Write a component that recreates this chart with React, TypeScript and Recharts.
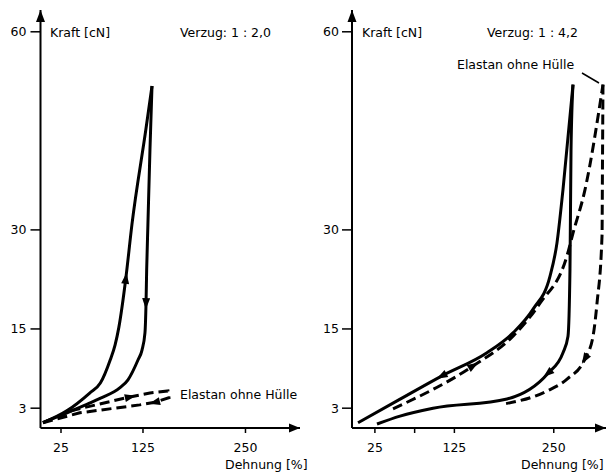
import React from "react";
import { LineChart, Line, XAxis, YAxis, ReferenceDot } from "recharts";

const FONT = '"DejaVu Sans", Arial, sans-serif';

// y ticks (Kraft [cN]) and x ticks (Dehnung [%])
const yTicks = [3, 15, 30, 60];
const xTicksLeft = [25, 125, 250];
const xTicksRight = [25, 75, 125, 250];
const xLabelledRight = [25, 125, 250];

// Verzug 1 : 2,0 -- umsponnenes Garn, Belastung
const leftLoad = [
  { x: 3, y: 0.8 },
  { x: 32, y: 2.6 },
  { x: 60, y: 5.3 },
  { x: 73, y: 6.8 },
  { x: 85, y: 10.3 },
  { x: 91, y: 12.6 },
  { x: 95.5, y: 15.2 },
  { x: 104, y: 22.6, arrow: 1 },
  { x: 111.5, y: 30.8 },
  { x: 128.5, y: 45.2 },
  { x: 136, y: 51.8 },
];

// Entlastung
const leftUnload = [
  { x: 136, y: 51.8 },
  { x: 133.5, y: 42.1 },
  { x: 131, y: 30.8 },
  { x: 129.5, y: 24 },
  { x: 128.7, y: 18.9, arrow: 1 },
  { x: 127.4, y: 14.4 },
  { x: 123.8, y: 11.8 },
  { x: 118.9, y: 10.3 },
  { x: 106.7, y: 7.3 },
  { x: 97, y: 6.1 },
  { x: 72.6, y: 4.5 },
  { x: 60.4, y: 3.8 },
  { x: 32.3, y: 2.3 },
  { x: 3, y: 0.8 },
];

// Elastan ohne Hülle, 1 : 2,0
const leftBare = [
  { x: 3, y: 0.8 },
  { x: 39.6, y: 2.7 },
  { x: 109, y: 4.7, arrow: 1 },
  { x: 133.5, y: 5.3 },
  { x: 155.5, y: 5.6 },
  { x: 156.7, y: 4.6 },
  { x: 139.6, y: 3.9, arrow: 1 },
  { x: 121, y: 3.5 },
  { x: 48, y: 2.3 },
  { x: 3, y: 0.8 },
];

// Verzug 1 : 4,2 -- umsponnenes Garn
const rightLoad = [
  { x: 3.8, y: 0.8 },
  { x: 52.8, y: 4.1 },
  { x: 109.4, y: 7.9, arrow: -1 },
  { x: 166, y: 11.4 },
  { x: 198.7, y: 14.4 },
  { x: 224, y: 18 },
  { x: 245.3, y: 23 },
  { x: 254, y: 28 },
  { x: 261.6, y: 36.1 },
  { x: 274.2, y: 52 },
];

const rightUnload = [
  { x: 274.2, y: 52 },
  { x: 271.7, y: 42.1 },
  { x: 270.4, y: 24.1 },
  { x: 267.9, y: 13.9 },
  { x: 261.6, y: 11.4 },
  { x: 242.8, y: 8.3, arrow: 1 },
  { x: 191.2, y: 4.4 },
  { x: 98.1, y: 3.0 },
  { x: 56.6, y: 1.8 },
  { x: 27.7, y: 0.6 },
];

// Elastan ohne Hülle, 1 : 4,2
const rightBareLoad = [
  { x: 47.8, y: 2.9 },
  { x: 148.4, y: 9.4, arrow: 1 },
  { x: 198.7, y: 13.9 },
  { x: 232.7, y: 18.9 },
  { x: 266.7, y: 26.1 },
  { x: 274.2, y: 29.5 },
  { x: 289.3, y: 36.1 },
  { x: 311.9, y: 52 },
];

const rightBareUnload = [
  { x: 311.9, y: 52 },
  { x: 311.3, y: 40.6 },
  { x: 310.7, y: 29.1 },
  { x: 304.4, y: 18.9 },
  { x: 299.4, y: 13.9 },
  { x: 289.3, y: 10.5, arrow: 1 },
  { x: 266.7, y: 7.4 },
  { x: 241.5, y: 5.6 },
  { x: 186.2, y: 3.6 },
];

const tickStyle = { fill: "#000", fontSize: 12.5, fontFamily: FONT };
const axisLine = { stroke: "#000", strokeWidth: 2 };
const tickLine = { stroke: "#000", strokeWidth: 1.5 };

function ArrowDot(props: any) {
  const { cx, cy, payload, points, index } = props;
  if (!payload || !payload.arrow || cx == null || cy == null) return <g key={"n" + index} />;
  let angle = 0;
  if (points && points.length) {
    const prev = points[Math.max(0, index - 1)];
    const next = points[Math.min(points.length - 1, index + 1)];
    angle = (Math.atan2(next.y - prev.y, next.x - prev.x) * 180) / Math.PI;
  }
  if (payload.arrow < 0) angle += 180;
  return (
    <g key={"a" + index} transform={`translate(${cx},${cy}) rotate(${angle})`}>
      <polygon points="6,0 -5,-4 -5,4" fill="#000" stroke="none" />
    </g>
  );
}

const RightArrow = (p: any) => (
  <polygon points={`${p.cx},${p.cy} ${p.cx - 11},${p.cy - 4.5} ${p.cx - 11},${p.cy + 4.5}`} fill="#000" />
);
const UpArrow = (p: any) => (
  <polygon points={`${p.cx},${p.cy} ${p.cx - 4.5},${p.cy + 12} ${p.cx + 4.5},${p.cy + 12}`} fill="#000" />
);

function curve(data: any[], dashed: boolean, type: any = "monotone") {
  return (
    <Line
      data={data}
      dataKey="y"
      type={type}
      stroke="#000"
      strokeWidth={3}
      strokeDasharray={dashed ? "10 5" : undefined}
      dot={ArrowDot}
      activeDot={false}
      isAnimationActive={false}
    />
  );
}

export default function App() {
  const yMax = 63.3;
  return (
    <div style={{ position: "absolute", left: 0, top: 0, width: 606, height: 472, background: "#fff" }}>
      <div style={{ position: "absolute", left: 0, top: 0 }}>
        <LineChart width={303} height={472} margin={{ top: 10, right: 3, bottom: 0, left: 0 }}>
          <XAxis
            type="number"
            dataKey="x"
            domain={[0, 316.5]}
            allowDataOverflow
            ticks={xTicksLeft}
            tick={tickStyle}
            tickSize={5}
            tickMargin={10}
            axisLine={axisLine}
            tickLine={tickLine}
            height={44}
          />
          <YAxis
            type="number"
            domain={[0, yMax]}
            allowDataOverflow
            ticks={yTicks}
            tick={tickStyle}
            tickSize={10}
            tickMargin={4}
            axisLine={axisLine}
            tickLine={tickLine}
            width={40.5}
          />
          {curve(leftLoad, false)}
          {curve(leftUnload, false)}
          {curve(leftBare, true, "linear")}
          <ReferenceDot x={316.5} y={0} ifOverflow="visible" shape={RightArrow} />
          <ReferenceDot x={0} y={yMax} ifOverflow="visible" shape={UpArrow} />
        </LineChart>
      </div>
      <div style={{ position: "absolute", left: 303, top: 0 }}>
        <LineChart width={303} height={472} margin={{ top: 10, right: 0, bottom: 0, left: 0 }}>
          <XAxis
            type="number"
            dataKey="x"
            domain={[-3.8, 315.7]}
            allowDataOverflow
            ticks={xTicksRight}
            tickFormatter={(v: number) => (xLabelledRight.includes(v) ? String(v) : "")}
            tick={tickStyle}
            tickSize={5}
            tickMargin={10}
            axisLine={axisLine}
            tickLine={tickLine}
            height={44}
          />
          <YAxis
            type="number"
            domain={[0, yMax]}
            allowDataOverflow
            ticks={yTicks}
            tick={tickStyle}
            tickSize={10}
            tickMargin={3}
            axisLine={axisLine}
            tickLine={tickLine}
            width={49}
          />
          {curve(rightLoad, false)}
          {curve(rightUnload, false)}
          {curve(rightBareLoad, true)}
          {curve(rightBareUnload, true)}
          <ReferenceDot x={315.7} y={0} ifOverflow="visible" shape={RightArrow} />
          <ReferenceDot x={-3.8} y={yMax} ifOverflow="visible" shape={UpArrow} />
        </LineChart>
      </div>
      <svg
        width={606}
        height={472}
        style={{ position: "absolute", left: 0, top: 0, pointerEvents: "none" }}
        fontFamily={FONT}
        fontSize={12.5}
        fill="#000"
      >
        <text x={50} y={37}>Kraft [cN]</text>
        <text x={180} y={37}>Verzug: 1 : 2,0</text>
        <text x={362} y={37}>Kraft [cN]</text>
        <text x={487} y={37}>Verzug: 1 : 4,2</text>
        <text x={180} y={399}>Elastan ohne Hülle</text>
        <text x={457} y={69}>Elastan ohne Hülle</text>
        <line x1={582} y1={73} x2={599} y2={83} stroke="#000" strokeWidth={1.5} />
        <text x={225} y={469}>Dehnung [%]</text>
        <text x={521} y={469}>Dehnung [%]</text>
      </svg>
    </div>
  );
}
